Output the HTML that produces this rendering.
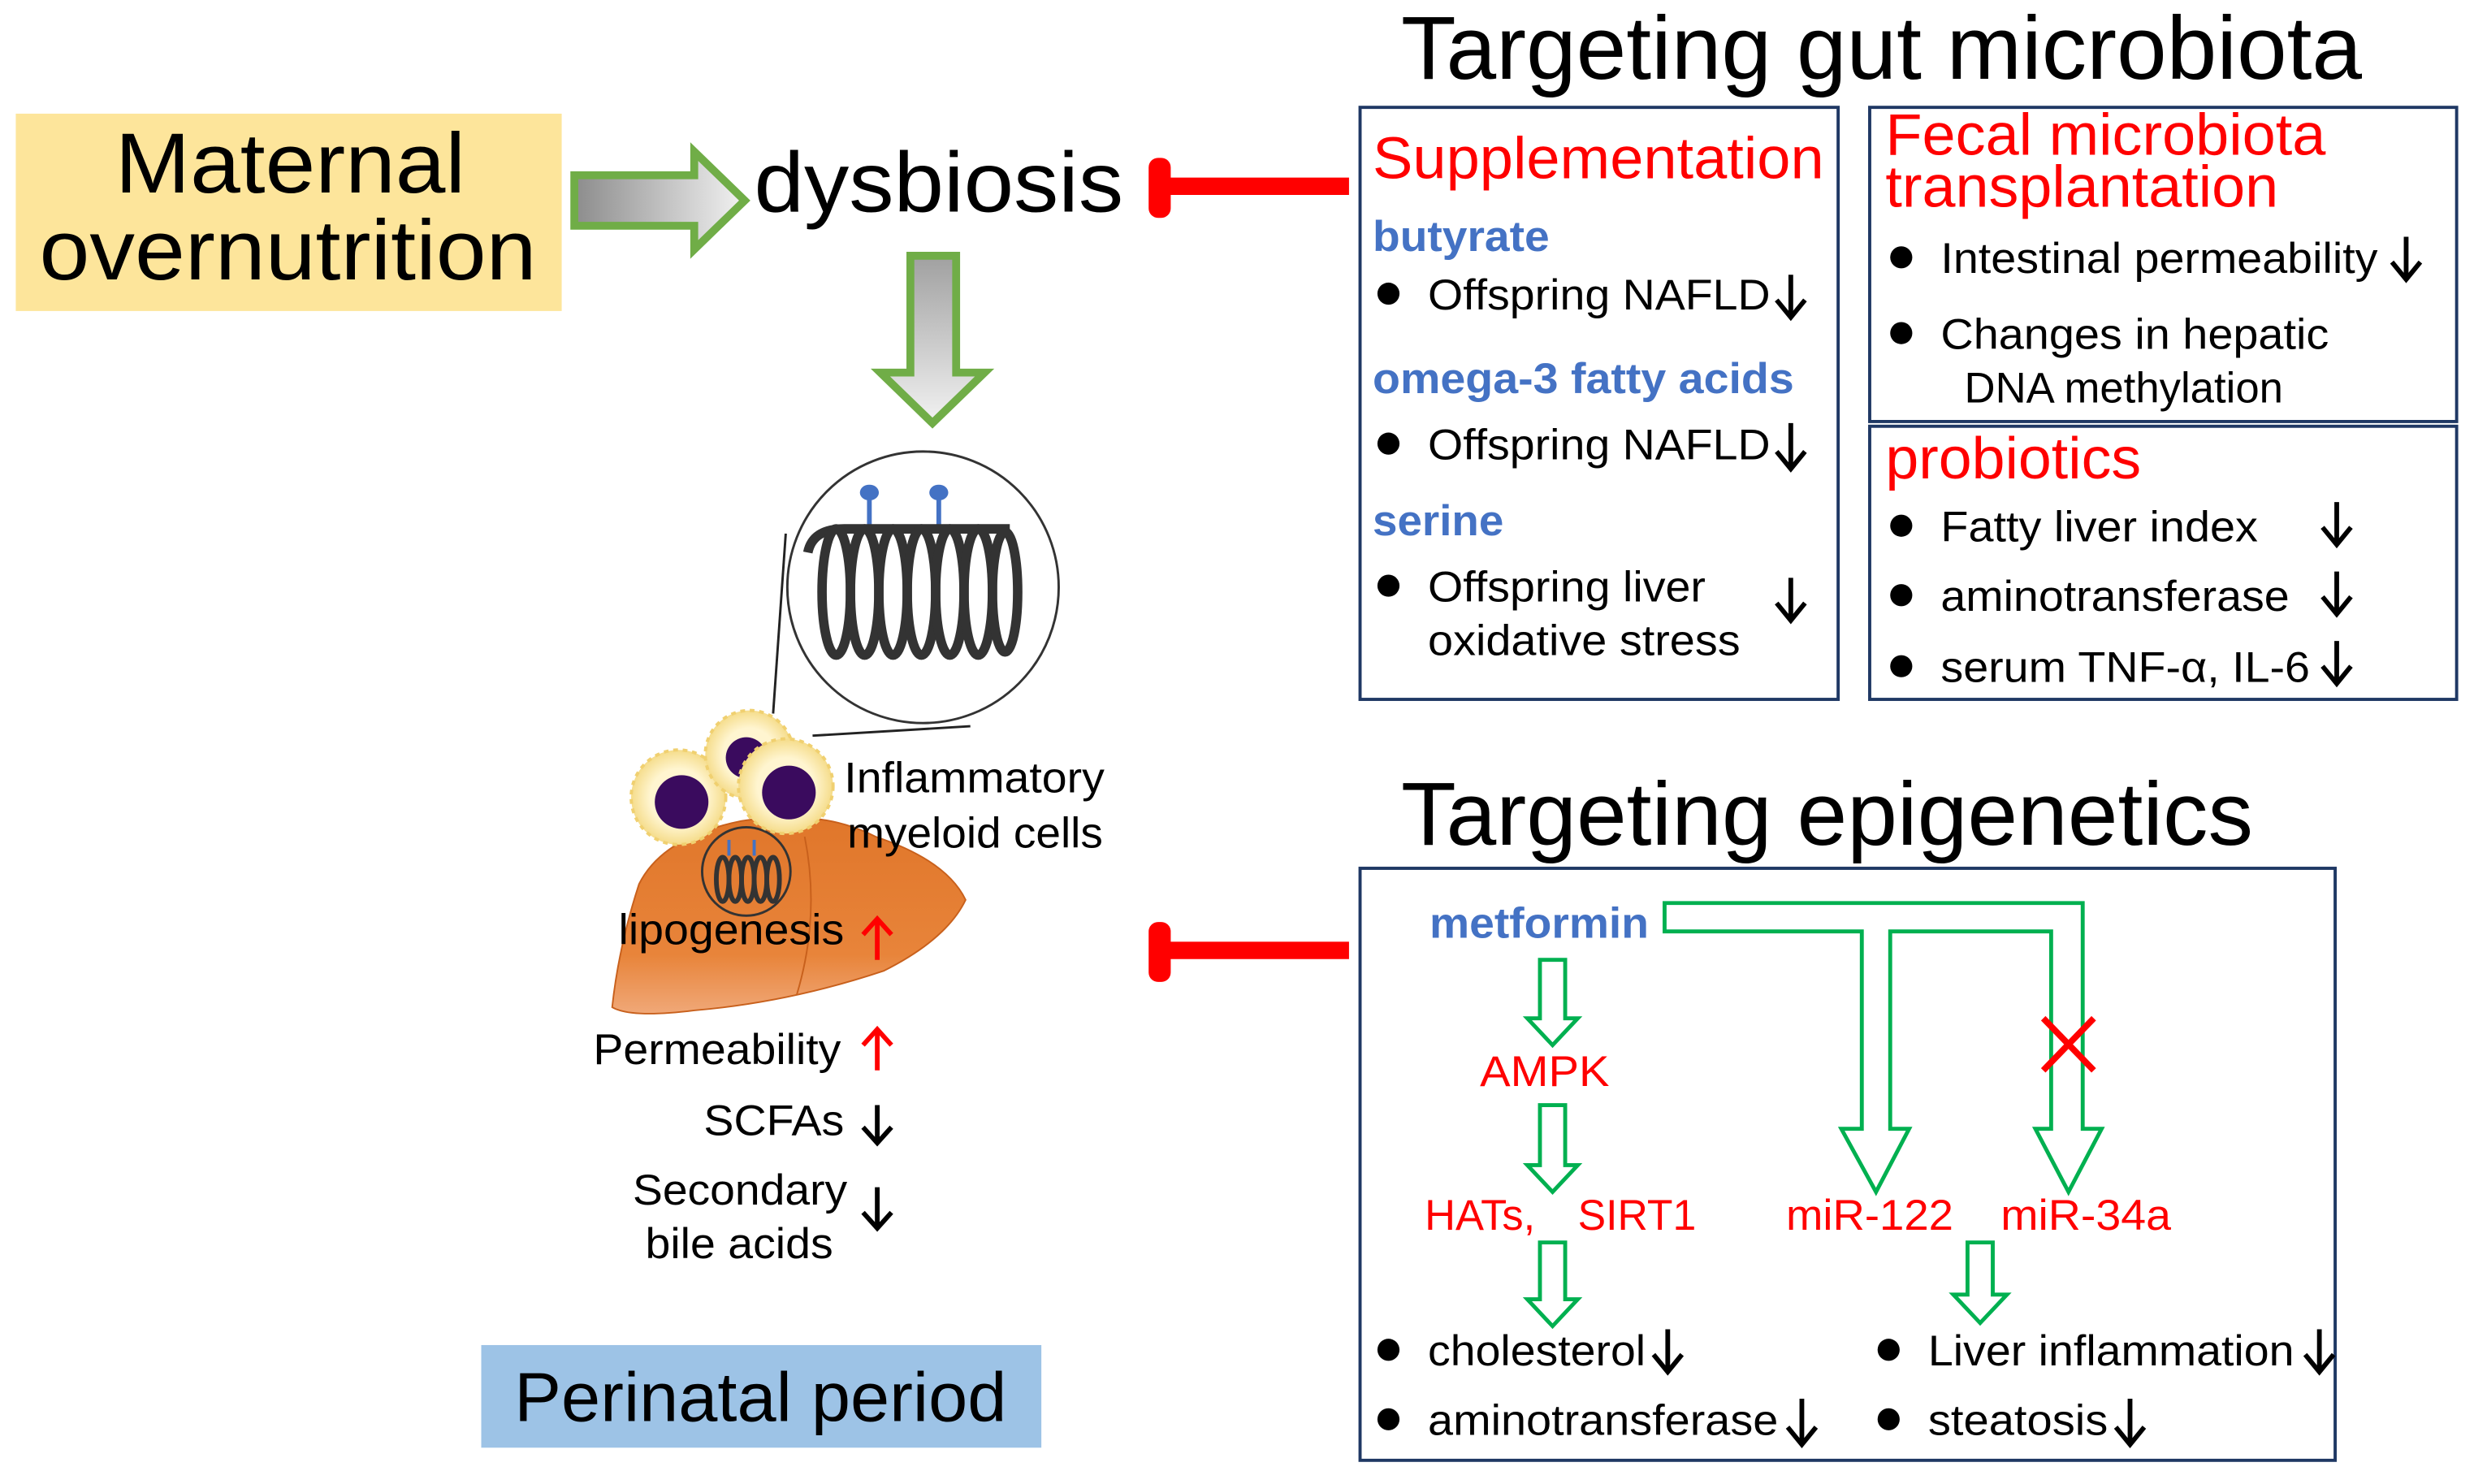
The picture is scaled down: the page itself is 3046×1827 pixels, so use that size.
<!DOCTYPE html>
<html><head><meta charset="utf-8"><style>
html,body{margin:0;padding:0;background:#fff;}
svg{display:block;}
text{font-family:"Liberation Sans",Arial,sans-serif;}
</style></head><body>
<svg width="3046" height="1827" viewBox="0 0 1568 940" preserveAspectRatio="none" xmlns="http://www.w3.org/2000/svg">
<defs>
<linearGradient id="gh" x1="0" y1="0" x2="1" y2="0"><stop offset="0" stop-color="#8c8c8c"/><stop offset="1" stop-color="#f2f2f2"/></linearGradient>
<linearGradient id="gv" x1="0" y1="0" x2="0" y2="1"><stop offset="0" stop-color="#a0a0a0"/><stop offset="1" stop-color="#f2f2f2"/></linearGradient>
<linearGradient id="liv" x1="0" y1="0" x2="0" y2="1"><stop offset="0" stop-color="#e0762a"/><stop offset="0.7" stop-color="#e8843a"/><stop offset="1" stop-color="#f0a878"/></linearGradient>
<radialGradient id="halo"><stop offset="0.6" stop-color="#fff5d0"/><stop offset="1" stop-color="#f5dc8a"/></radialGradient>
</defs>

<rect x="10" y="72" width="346" height="125" fill="#fde59b"/>
<text x="73" y="122" font-size="54" textLength="222" lengthAdjust="spacingAndGlyphs">Maternal</text>
<text x="25" y="177" font-size="54" textLength="315" lengthAdjust="spacingAndGlyphs">overnutrition</text>

<path d="M364,111 H440 V96 L472,127 L440,158 V143 H364 Z" fill="url(#gh)" stroke="#70ad47" stroke-width="5"/>
<text x="478" y="134" font-size="54" textLength="234" lengthAdjust="spacingAndGlyphs">dysbiosis</text>

<line x1="738" y1="118" x2="855" y2="118" stroke="#ff0000" stroke-width="11"/>
<rect x="728" y="100" width="14" height="38" rx="6" fill="#ff0000"/>
<line x1="738" y1="602" x2="855" y2="602" stroke="#ff0000" stroke-width="11"/>
<rect x="728" y="584" width="14" height="38" rx="6" fill="#ff0000"/>

<path d="M577,162 H606 V236 L624,236 L591,268 L558,236 H577 Z" fill="url(#gv)" stroke="#70ad47" stroke-width="5"/>

<line x1="498" y1="338" x2="490" y2="452" stroke="#222" stroke-width="1.5"/>
<line x1="515" y1="466" x2="615" y2="460" stroke="#222" stroke-width="1.5"/>
<circle cx="585" cy="372" r="86" fill="#fff" stroke="#333" stroke-width="1.5"/>
<line x1="551" y1="312" x2="551" y2="338" stroke="#4472c4" stroke-width="3"/>
<ellipse cx="551" cy="312" rx="6" ry="5" fill="#4472c4"/>
<line x1="595" y1="312" x2="595" y2="338" stroke="#4472c4" stroke-width="3"/>
<ellipse cx="595" cy="312" rx="6" ry="5" fill="#4472c4"/>
<g fill="none" stroke="#333" stroke-width="6">
<path d="M512,350 Q515,335 535,335 L640,335"/>
<ellipse cx="530" cy="375" rx="9" ry="40"/>
<ellipse cx="548" cy="375" rx="9" ry="40"/>
<ellipse cx="566" cy="375" rx="9" ry="40"/>
<ellipse cx="584" cy="375" rx="9" ry="40"/>
<ellipse cx="602" cy="375" rx="9" ry="40"/>
<ellipse cx="620" cy="375" rx="9" ry="40"/>
<ellipse cx="637" cy="375" rx="8" ry="38"/>
</g>

<path d="M405,560 Q420,530 470,520 Q520,512 555,530 Q600,545 612,570 Q600,595 560,615 Q500,635 440,640 Q400,645 388,638 Q392,600 405,560 Z" fill="url(#liv)" stroke="#c8601c" stroke-width="1"/>
<path d="M510,530 Q520,580 505,630" fill="none" stroke="#c8601c" stroke-width="1"/>
<circle cx="473" cy="552" r="28" fill="none" stroke="#333" stroke-width="1.5"/>
<g fill="none" stroke="#333" stroke-width="3">
<ellipse cx="458" cy="557" rx="4" ry="14"/><ellipse cx="466" cy="557" rx="4" ry="14"/><ellipse cx="474" cy="557" rx="4" ry="14"/><ellipse cx="482" cy="557" rx="4" ry="14"/><ellipse cx="490" cy="557" rx="4" ry="14"/>
</g>
<line x1="462" y1="532" x2="462" y2="542" stroke="#4472c4" stroke-width="2"/>
<line x1="478" y1="532" x2="478" y2="542" stroke="#4472c4" stroke-width="2"/>

<circle cx="430" cy="505" r="30" fill="url(#halo)" stroke="#f0d070" stroke-width="2" stroke-dasharray="3 3"/>
<circle cx="432" cy="508" r="17" fill="#3a0b5e"/>
<circle cx="475" cy="478" r="28" fill="url(#halo)" stroke="#f0d070" stroke-width="2" stroke-dasharray="3 3"/>
<circle cx="473" cy="480" r="13" fill="#3a0b5e"/>
<circle cx="498" cy="498" r="30" fill="url(#halo)" stroke="#f0d070" stroke-width="2" stroke-dasharray="3 3"/>
<circle cx="500" cy="502" r="17" fill="#3a0b5e"/>

<g font-size="27">
<text x="535" y="502" textLength="165" lengthAdjust="spacingAndGlyphs">Inflammatory</text>
<text x="537" y="537" textLength="162" lengthAdjust="spacingAndGlyphs">myeloid cells</text>
<text x="392" y="598" textLength="143" lengthAdjust="spacingAndGlyphs">lipogenesis</text>
<text x="376" y="674" textLength="157" lengthAdjust="spacingAndGlyphs">Permeability</text>
<text x="446" y="719" textLength="89" lengthAdjust="spacingAndGlyphs">SCFAs</text>
<text x="401" y="763" textLength="136" lengthAdjust="spacingAndGlyphs">Secondary</text>
<text x="409" y="797" textLength="119" lengthAdjust="spacingAndGlyphs">bile acids</text>
</g>

<g stroke="#ff0000" stroke-width="3" fill="none">
<line x1="556" y1="608" x2="556" y2="583"/><polyline points="547,592 556,582 565,592"/>
<line x1="556" y1="678" x2="556" y2="653"/><polyline points="547,662 556,652 565,662"/>
</g>
<g stroke="#000" stroke-width="3" fill="none">
<line x1="556" y1="700" x2="556" y2="723"/><polyline points="547,714 556,724 565,714"/>
<line x1="556" y1="752" x2="556" y2="777"/><polyline points="547,768 556,778 565,768"/>
</g>

<rect x="305" y="852" width="355" height="65" fill="#9dc3e6"/>
<text x="326" y="900" font-size="44" textLength="312" lengthAdjust="spacingAndGlyphs">Perinatal period</text>

<text x="888" y="50" font-size="57" textLength="609" lengthAdjust="spacingAndGlyphs">Targeting gut microbiota</text>
<g fill="none" stroke="#1f3864" stroke-width="2">
<rect x="862" y="68" width="303" height="375"/>
<rect x="1185" y="68" width="372" height="199"/>
<rect x="1185" y="270" width="372" height="173"/>
<rect x="862" y="550" width="618" height="375"/>
</g>
<text x="870" y="113" font-size="37" fill="#ff0000" textLength="286" lengthAdjust="spacingAndGlyphs">Supplementation</text>
<text x="870" y="159" font-size="27" font-weight="bold" fill="#4472c4" textLength="112" lengthAdjust="spacingAndGlyphs">butyrate</text>
<text x="870" y="249" font-size="27" font-weight="bold" fill="#4472c4" textLength="267" lengthAdjust="spacingAndGlyphs">omega-3 fatty acids</text>
<text x="870" y="339" font-size="27" font-weight="bold" fill="#4472c4" textLength="83" lengthAdjust="spacingAndGlyphs">serine</text>
<g font-size="27">
<text x="905" y="196" textLength="217" lengthAdjust="spacingAndGlyphs">Offspring NAFLD</text>
<text x="905" y="291" textLength="217" lengthAdjust="spacingAndGlyphs">Offspring NAFLD</text>
<text x="905" y="381" textLength="176" lengthAdjust="spacingAndGlyphs">Offspring liver</text>
<text x="905" y="415" textLength="198" lengthAdjust="spacingAndGlyphs">oxidative stress</text>
<text x="1230" y="173" textLength="277" lengthAdjust="spacingAndGlyphs">Intestinal permeability</text>
<text x="1230" y="221" textLength="246" lengthAdjust="spacingAndGlyphs">Changes in hepatic</text>
<text x="1245" y="255" textLength="202" lengthAdjust="spacingAndGlyphs">DNA methylation</text>
<text x="1230" y="343" textLength="201" lengthAdjust="spacingAndGlyphs">Fatty liver index</text>
<text x="1230" y="387" textLength="221" lengthAdjust="spacingAndGlyphs">aminotransferase</text>
<text x="1230" y="432" textLength="234" lengthAdjust="spacingAndGlyphs">serum TNF-α, IL-6</text>
</g>
<text x="1195" y="98" font-size="37" fill="#ff0000" textLength="279" lengthAdjust="spacingAndGlyphs">Fecal microbiota</text>
<text x="1195" y="131" font-size="37" fill="#ff0000" textLength="249" lengthAdjust="spacingAndGlyphs">transplantation</text>
<text x="1195" y="303" font-size="37" fill="#ff0000" textLength="162" lengthAdjust="spacingAndGlyphs">probiotics</text>
<g fill="#000">
<circle cx="880" cy="186" r="7"/><circle cx="880" cy="281" r="7"/><circle cx="880" cy="371" r="7"/>
<circle cx="1205" cy="163" r="7"/><circle cx="1205" cy="211" r="7"/>
<circle cx="1205" cy="333" r="7"/><circle cx="1205" cy="377" r="7"/><circle cx="1205" cy="422" r="7"/>
<circle cx="880" cy="855" r="7"/><circle cx="880" cy="899" r="7"/>
<circle cx="1197" cy="855" r="7"/><circle cx="1197" cy="899" r="7"/>
</g>
<g stroke="#000" stroke-width="3" fill="none">
<line x1="1135" y1="174" x2="1135" y2="200"/><polyline points="1126,190 1135,201 1144,190"/>
<line x1="1135" y1="268" x2="1135" y2="296"/><polyline points="1126,286 1135,297 1144,286"/>
<line x1="1135" y1="366" x2="1135" y2="392"/><polyline points="1126,382 1135,393 1144,382"/>
<line x1="1525" y1="150" x2="1525" y2="176"/><polyline points="1516,166 1525,177 1534,166"/>
<line x1="1481" y1="318" x2="1481" y2="344"/><polyline points="1472,334 1481,345 1490,334"/>
<line x1="1481" y1="362" x2="1481" y2="388"/><polyline points="1472,378 1481,389 1490,378"/>
<line x1="1481" y1="406" x2="1481" y2="432"/><polyline points="1472,422 1481,433 1490,422"/>
<line x1="1057" y1="842" x2="1057" y2="868"/><polyline points="1048,858 1057,869 1066,858"/>
<line x1="1142" y1="886" x2="1142" y2="914"/><polyline points="1133,904 1142,915 1151,904"/>
<line x1="1470" y1="842" x2="1470" y2="868"/><polyline points="1461,858 1470,869 1479,858"/>
<line x1="1350" y1="886" x2="1350" y2="914"/><polyline points="1341,904 1350,915 1359,904"/>
</g>

<text x="888" y="535" font-size="57" textLength="540" lengthAdjust="spacingAndGlyphs">Targeting epigenetics</text>
<text x="906" y="594" font-size="27" font-weight="bold" fill="#4472c4" textLength="139" lengthAdjust="spacingAndGlyphs">metformin</text>
<g fill="none" stroke="#00b050" stroke-width="2.5">
<path d="M1055,572 H1320 V715 H1332 L1311,755 L1290,715 H1300 V590 H1198 V715 H1210 L1189,755 L1167,715 H1180 V590 H1055 Z"/>
<path d="M976,608 H992 V645 H1000 L984,662 L968,645 H976 Z"/>
<path d="M976,700 H992 V738 H1000 L984,755 L968,738 H976 Z"/>
<path d="M976,787 H992 V823 H1000 L984,840 L968,823 H976 Z"/>
<path d="M1247,787 H1263 V820 H1272 L1255,838 L1238,820 H1247 Z"/>
</g>
<g stroke="#ff0000" stroke-width="4">
<line x1="1295" y1="645" x2="1327" y2="678"/><line x1="1327" y1="645" x2="1295" y2="678"/>
</g>
<g font-size="27" fill="#ff0000">
<text x="938" y="688" textLength="82" lengthAdjust="spacingAndGlyphs">AMPK</text>
<text x="903" y="779" textLength="70" lengthAdjust="spacingAndGlyphs">HATs,</text>
<text x="1000" y="779" textLength="75" lengthAdjust="spacingAndGlyphs">SIRT1</text>
<text x="1132" y="779" textLength="106" lengthAdjust="spacingAndGlyphs">miR-122</text>
<text x="1268" y="779" textLength="108" lengthAdjust="spacingAndGlyphs">miR-34a</text>
</g>
<g font-size="27">
<text x="905" y="865" textLength="138" lengthAdjust="spacingAndGlyphs">cholesterol</text>
<text x="905" y="909" textLength="222" lengthAdjust="spacingAndGlyphs">aminotransferase</text>
<text x="1222" y="865" textLength="232" lengthAdjust="spacingAndGlyphs">Liver inflammation</text>
<text x="1222" y="909" textLength="114" lengthAdjust="spacingAndGlyphs">steatosis</text>
</g>
</svg>
</body></html>
